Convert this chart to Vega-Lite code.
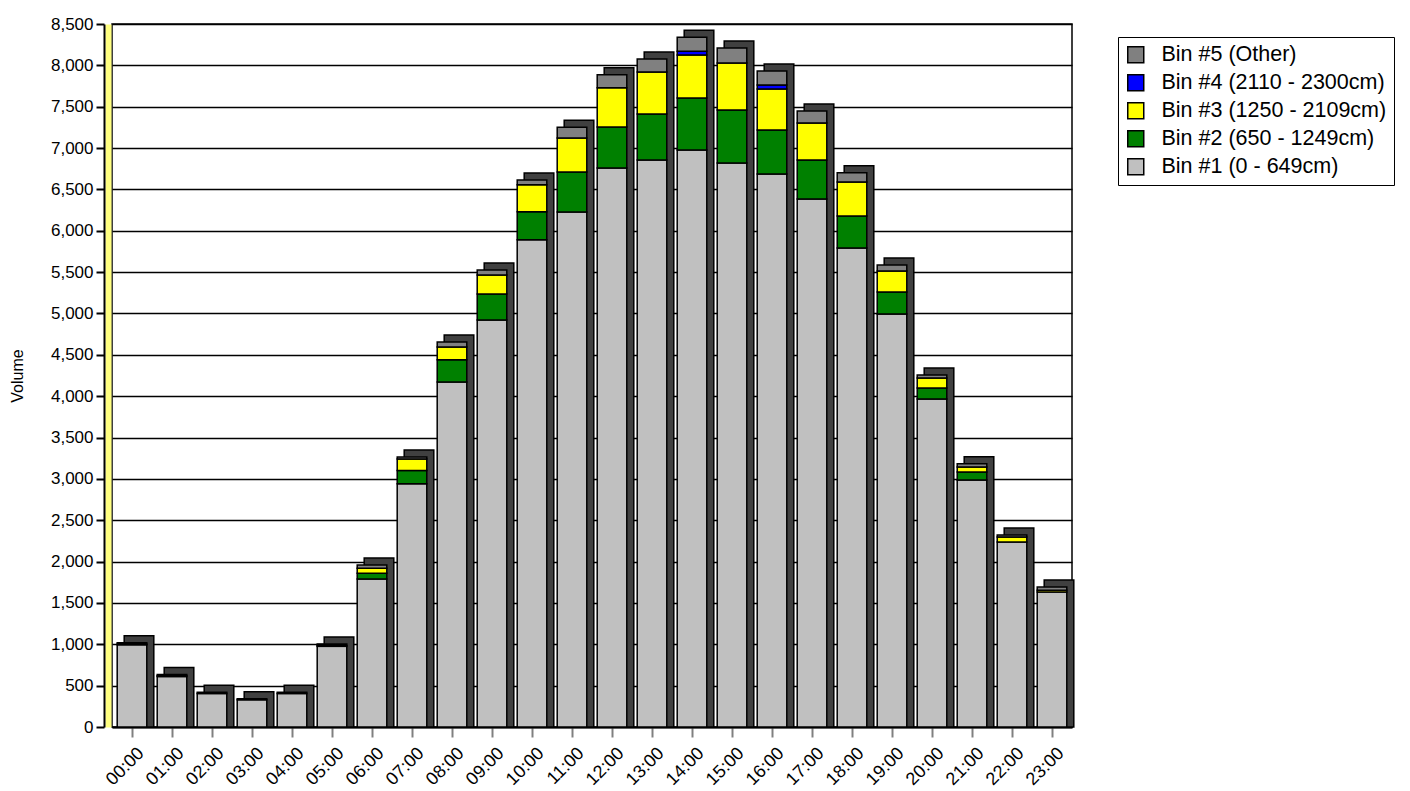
{
  "$schema": "https://vega.github.io/schema/vega-lite/v6.json",
  "width": 960,
  "height": 703,
  "autosize": {"type": "none"},
  "padding": {"left": 112, "top": 24, "right": 338, "bottom": 64},
  "background": "white",
  "config": {
    "font": "Liberation Sans",
    "view": {"stroke": "black", "strokeWidth": 1.5},
    "axis": {"labelColor": "black", "titleColor": "black", "labelFont": "Liberation Sans", "titleFont": "Liberation Sans"}
  },
  "data": {
    "values": [
      {"hour": "00:00", "bin": "Bin #1 (0 - 649cm)", "volume": 995},
      {"hour": "00:00", "bin": "Bin #2 (650 - 1249cm)", "volume": 10},
      {"hour": "00:00", "bin": "Bin #3 (1250 - 2109cm)", "volume": 15},
      {"hour": "01:00", "bin": "Bin #1 (0 - 649cm)", "volume": 610},
      {"hour": "01:00", "bin": "Bin #2 (650 - 1249cm)", "volume": 10},
      {"hour": "01:00", "bin": "Bin #3 (1250 - 2109cm)", "volume": 15},
      {"hour": "02:00", "bin": "Bin #1 (0 - 649cm)", "volume": 405},
      {"hour": "02:00", "bin": "Bin #3 (1250 - 2109cm)", "volume": 15},
      {"hour": "03:00", "bin": "Bin #1 (0 - 649cm)", "volume": 330},
      {"hour": "03:00", "bin": "Bin #3 (1250 - 2109cm)", "volume": 12},
      {"hour": "04:00", "bin": "Bin #1 (0 - 649cm)", "volume": 405},
      {"hour": "04:00", "bin": "Bin #5 (Other)", "volume": 15},
      {"hour": "05:00", "bin": "Bin #1 (0 - 649cm)", "volume": 975},
      {"hour": "05:00", "bin": "Bin #2 (650 - 1249cm)", "volume": 10},
      {"hour": "05:00", "bin": "Bin #5 (Other)", "volume": 20},
      {"hour": "06:00", "bin": "Bin #1 (0 - 649cm)", "volume": 1790},
      {"hour": "06:00", "bin": "Bin #2 (650 - 1249cm)", "volume": 70},
      {"hour": "06:00", "bin": "Bin #3 (1250 - 2109cm)", "volume": 60},
      {"hour": "06:00", "bin": "Bin #5 (Other)", "volume": 40},
      {"hour": "07:00", "bin": "Bin #1 (0 - 649cm)", "volume": 2940},
      {"hour": "07:00", "bin": "Bin #2 (650 - 1249cm)", "volume": 160},
      {"hour": "07:00", "bin": "Bin #3 (1250 - 2109cm)", "volume": 140},
      {"hour": "07:00", "bin": "Bin #5 (Other)", "volume": 25},
      {"hour": "08:00", "bin": "Bin #1 (0 - 649cm)", "volume": 4170},
      {"hour": "08:00", "bin": "Bin #2 (650 - 1249cm)", "volume": 270},
      {"hour": "08:00", "bin": "Bin #3 (1250 - 2109cm)", "volume": 155},
      {"hour": "08:00", "bin": "Bin #5 (Other)", "volume": 60},
      {"hour": "09:00", "bin": "Bin #1 (0 - 649cm)", "volume": 4920},
      {"hour": "09:00", "bin": "Bin #2 (650 - 1249cm)", "volume": 315},
      {"hour": "09:00", "bin": "Bin #3 (1250 - 2109cm)", "volume": 230},
      {"hour": "09:00", "bin": "Bin #5 (Other)", "volume": 60},
      {"hour": "10:00", "bin": "Bin #1 (0 - 649cm)", "volume": 5890},
      {"hour": "10:00", "bin": "Bin #2 (650 - 1249cm)", "volume": 340},
      {"hour": "10:00", "bin": "Bin #3 (1250 - 2109cm)", "volume": 325},
      {"hour": "10:00", "bin": "Bin #5 (Other)", "volume": 60},
      {"hour": "11:00", "bin": "Bin #1 (0 - 649cm)", "volume": 6227},
      {"hour": "11:00", "bin": "Bin #2 (650 - 1249cm)", "volume": 484},
      {"hour": "11:00", "bin": "Bin #3 (1250 - 2109cm)", "volume": 411},
      {"hour": "11:00", "bin": "Bin #5 (Other)", "volume": 130},
      {"hour": "12:00", "bin": "Bin #1 (0 - 649cm)", "volume": 6760},
      {"hour": "12:00", "bin": "Bin #2 (650 - 1249cm)", "volume": 496},
      {"hour": "12:00", "bin": "Bin #3 (1250 - 2109cm)", "volume": 472},
      {"hour": "12:00", "bin": "Bin #5 (Other)", "volume": 157},
      {"hour": "13:00", "bin": "Bin #1 (0 - 649cm)", "volume": 6856},
      {"hour": "13:00", "bin": "Bin #2 (650 - 1249cm)", "volume": 556},
      {"hour": "13:00", "bin": "Bin #3 (1250 - 2109cm)", "volume": 508},
      {"hour": "13:00", "bin": "Bin #5 (Other)", "volume": 157},
      {"hour": "14:00", "bin": "Bin #1 (0 - 649cm)", "volume": 6977},
      {"hour": "14:00", "bin": "Bin #2 (650 - 1249cm)", "volume": 629},
      {"hour": "14:00", "bin": "Bin #3 (1250 - 2109cm)", "volume": 520},
      {"hour": "14:00", "bin": "Bin #4 (2110 - 2300cm)", "volume": 45},
      {"hour": "14:00", "bin": "Bin #5 (Other)", "volume": 170},
      {"hour": "15:00", "bin": "Bin #1 (0 - 649cm)", "volume": 6820},
      {"hour": "15:00", "bin": "Bin #2 (650 - 1249cm)", "volume": 641},
      {"hour": "15:00", "bin": "Bin #3 (1250 - 2109cm)", "volume": 568},
      {"hour": "15:00", "bin": "Bin #5 (Other)", "volume": 181},
      {"hour": "16:00", "bin": "Bin #1 (0 - 649cm)", "volume": 6687},
      {"hour": "16:00", "bin": "Bin #2 (650 - 1249cm)", "volume": 532},
      {"hour": "16:00", "bin": "Bin #3 (1250 - 2109cm)", "volume": 496},
      {"hour": "16:00", "bin": "Bin #4 (2110 - 2300cm)", "volume": 48},
      {"hour": "16:00", "bin": "Bin #5 (Other)", "volume": 169},
      {"hour": "17:00", "bin": "Bin #1 (0 - 649cm)", "volume": 6385},
      {"hour": "17:00", "bin": "Bin #2 (650 - 1249cm)", "volume": 471},
      {"hour": "17:00", "bin": "Bin #3 (1250 - 2109cm)", "volume": 448},
      {"hour": "17:00", "bin": "Bin #5 (Other)", "volume": 145},
      {"hour": "18:00", "bin": "Bin #1 (0 - 649cm)", "volume": 5792},
      {"hour": "18:00", "bin": "Bin #2 (650 - 1249cm)", "volume": 387},
      {"hour": "18:00", "bin": "Bin #3 (1250 - 2109cm)", "volume": 411},
      {"hour": "18:00", "bin": "Bin #5 (Other)", "volume": 110},
      {"hour": "19:00", "bin": "Bin #1 (0 - 649cm)", "volume": 4994},
      {"hour": "19:00", "bin": "Bin #2 (650 - 1249cm)", "volume": 266},
      {"hour": "19:00", "bin": "Bin #3 (1250 - 2109cm)", "volume": 254},
      {"hour": "19:00", "bin": "Bin #5 (Other)", "volume": 72},
      {"hour": "20:00", "bin": "Bin #1 (0 - 649cm)", "volume": 3966},
      {"hour": "20:00", "bin": "Bin #2 (650 - 1249cm)", "volume": 133},
      {"hour": "20:00", "bin": "Bin #3 (1250 - 2109cm)", "volume": 121},
      {"hour": "20:00", "bin": "Bin #5 (Other)", "volume": 36},
      {"hour": "21:00", "bin": "Bin #1 (0 - 649cm)", "volume": 2987},
      {"hour": "21:00", "bin": "Bin #2 (650 - 1249cm)", "volume": 96},
      {"hour": "21:00", "bin": "Bin #3 (1250 - 2109cm)", "volume": 61},
      {"hour": "21:00", "bin": "Bin #5 (Other)", "volume": 40},
      {"hour": "22:00", "bin": "Bin #1 (0 - 649cm)", "volume": 2237},
      {"hour": "22:00", "bin": "Bin #3 (1250 - 2109cm)", "volume": 60},
      {"hour": "22:00", "bin": "Bin #5 (Other)", "volume": 25},
      {"hour": "23:00", "bin": "Bin #1 (0 - 649cm)", "volume": 1632},
      {"hour": "23:00", "bin": "Bin #3 (1250 - 2109cm)", "volume": 20},
      {"hour": "23:00", "bin": "Bin #5 (Other)", "volume": 40}
    ]
  },
  "resolve": {"axis": {"y": "independent"}},
  "layer": [
    {
      "mark": {"type": "bar", "color": "#404040", "stroke": "black", "strokeWidth": 1.5, "xOffset": 7, "x2Offset": 7, "yOffset": -7, "y2Offset": -7, "width": {"band": 0.74}},
      "encoding": {
        "x": {"field": "hour", "type": "ordinal", "scale": {"paddingInner": 0, "paddingOuter": 0},
              "axis": {"title": null, "labelAngle": -45, "labelFontSize": 18, "tickColor": "#808080", "tickSize": 10, "tickWidth": 2, "domainColor": "black", "domainWidth": 2, "labelPadding": 7, "labelOffset": 3}},
        "y": {"aggregate": "sum", "field": "volume", "type": "quantitative", "scale": {"domain": [0, 8500], "nice": false},
              "axis": {"orient": "left", "offset": 4, "domainColor": "#FFFF80", "domainWidth": 6, "labels": false, "ticks": false, "grid": false, "title": null}}
      }
    },
    {
      "mark": {"type": "bar", "stroke": "black", "strokeWidth": 1.5, "width": {"band": 0.74}},
      "encoding": {
        "x": {"field": "hour", "type": "ordinal"},
        "y": {"field": "volume", "type": "quantitative", "stack": "zero",
              "axis": {"orient": "left", "offset": 8, "title": "Volume", "titleFontSize": 16, "titleFontWeight": "normal", "titlePadding": 25,
                       "values": [0, 500, 1000, 1500, 2000, 2500, 3000, 3500, 4000, 4500, 5000, 5500, 6000, 6500, 7000, 7500, 8000, 8500],
                       "format": ",.0f", "labelFontSize": 17, "labelPadding": 3, "tickColor": "black", "tickSize": 8, "tickWidth": 2,
                       "domainColor": "black", "domainWidth": 2, "grid": true, "gridColor": "black", "gridWidth": 1.5}},
        "color": {"field": "bin", "type": "nominal",
                  "scale": {"domain": ["Bin #5 (Other)", "Bin #4 (2110 - 2300cm)", "Bin #3 (1250 - 2109cm)", "Bin #2 (650 - 1249cm)", "Bin #1 (0 - 649cm)"],
                            "range": ["#808080", "#0000FF", "#FFFF00", "#008000", "#C0C0C0"]},
                  "legend": {"orient": "none", "legendX": 1006, "legendY": 13, "title": null, "strokeColor": "black", "fillColor": "white", "padding": 7,
                             "symbolType": "square", "symbolSize": 256, "symbolStrokeColor": "black", "symbolStrokeWidth": 1.5, "symbolOpacity": 1,
                             "labelFontSize": 21.5, "labelOffset": 15, "rowPadding": 5, "labelColor": "black", "labelLimit": 400}},
        "order": {"field": "bin", "sort": "ascending"}
      }
    }
  ]
}
